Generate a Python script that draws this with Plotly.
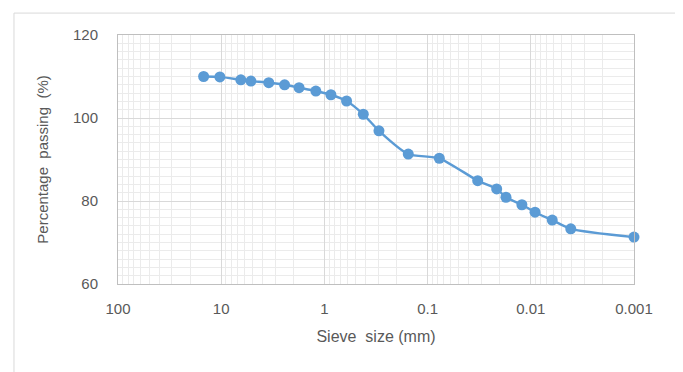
import plotly.graph_objects as go

sieve_mm = [14.8, 10.3, 6.45, 5.15, 3.46, 2.43, 1.76, 1.21, 0.865, 0.61, 0.42, 0.296,
            0.154, 0.077, 0.0327, 0.0214, 0.0174, 0.0122, 0.0091, 0.0062, 0.0041, 0.001]
passing = [110.0, 109.9, 109.2, 108.9, 108.5, 108.0, 107.3, 106.5, 105.6, 104.1, 100.9, 96.9,
           91.3, 90.3, 84.9, 82.9, 80.9, 79.1, 77.3, 75.4, 73.3, 71.3]

x_ticks = [100, 10, 1, 0.1, 0.01, 0.001]
x_ticktext = ["100", "10", "1", "0.1", "0.01", "0.001"]
y_ticks = [60, 80, 100, 120]

minor_x = [m * 10 ** e for e in range(-3, 2) for m in range(2, 10)]

blue = "#5B9BD5"
txt = "#595959"

fig = go.Figure()
fig.add_trace(go.Scatter(
    x=sieve_mm, y=passing, mode="lines+markers",
    line=dict(color=blue, width=2.4, shape="spline", smoothing=0.6),
    marker=dict(color=blue, size=11),
    showlegend=False, cliponaxis=False,
))

fig.update_layout(
    width=683, height=372,
    margin=dict(l=110, r=57, t=27, b=96, autoexpand=False),
    paper_bgcolor="white", plot_bgcolor="white",
    font=dict(family="Liberation Sans, Arial", color=txt, size=14),
    shapes=[dict(type="rect", xref="paper", yref="paper",
                 x0=-0.2016, x1=1.087, y0=-0.6, y1=1.088,
                 line=dict(color="#D9D9D9", width=1), layer="below")],
)
fig.update_xaxes(
    type="log", range=[2, -3],
    tickvals=x_ticks, ticktext=x_ticktext,
    showgrid=True, gridcolor="#D9D9D9", gridwidth=1,
    minor=dict(tickvals=minor_x, showgrid=True, gridcolor="#EBEBEB", gridwidth=1),
    showline=True, linecolor="#BFBFBF", mirror=True,
    ticks="", ticklen=0, ticklabelstandoff=11,
    title=dict(text="Sieve  size (mm)", font=dict(size=16, color=txt), standoff=14),
    tickfont=dict(size=15, color=txt),
    zeroline=False, automargin=False,
)
fig.update_yaxes(
    range=[60, 120],
    tickvals=y_ticks,
    showgrid=True, gridcolor="#D9D9D9", gridwidth=1,
    minor=dict(dtick=2, showgrid=True, gridcolor="#EBEBEB", gridwidth=1),
    showline=True, linecolor="#BFBFBF", mirror=True,
    ticks="", ticklabelstandoff=16,
    title=dict(text="Percentage  passing  (%)", font=dict(size=15, color=txt), standoff=20),
    tickfont=dict(size=15, color=txt),
    zeroline=False, automargin=False,
)
# major gridlines every 10 on y (labels every 20)
for v in [70, 90, 110]:
    fig.add_hline(y=v, line=dict(color="#D9D9D9", width=1), layer="below")

fig.write_html("out.html")
